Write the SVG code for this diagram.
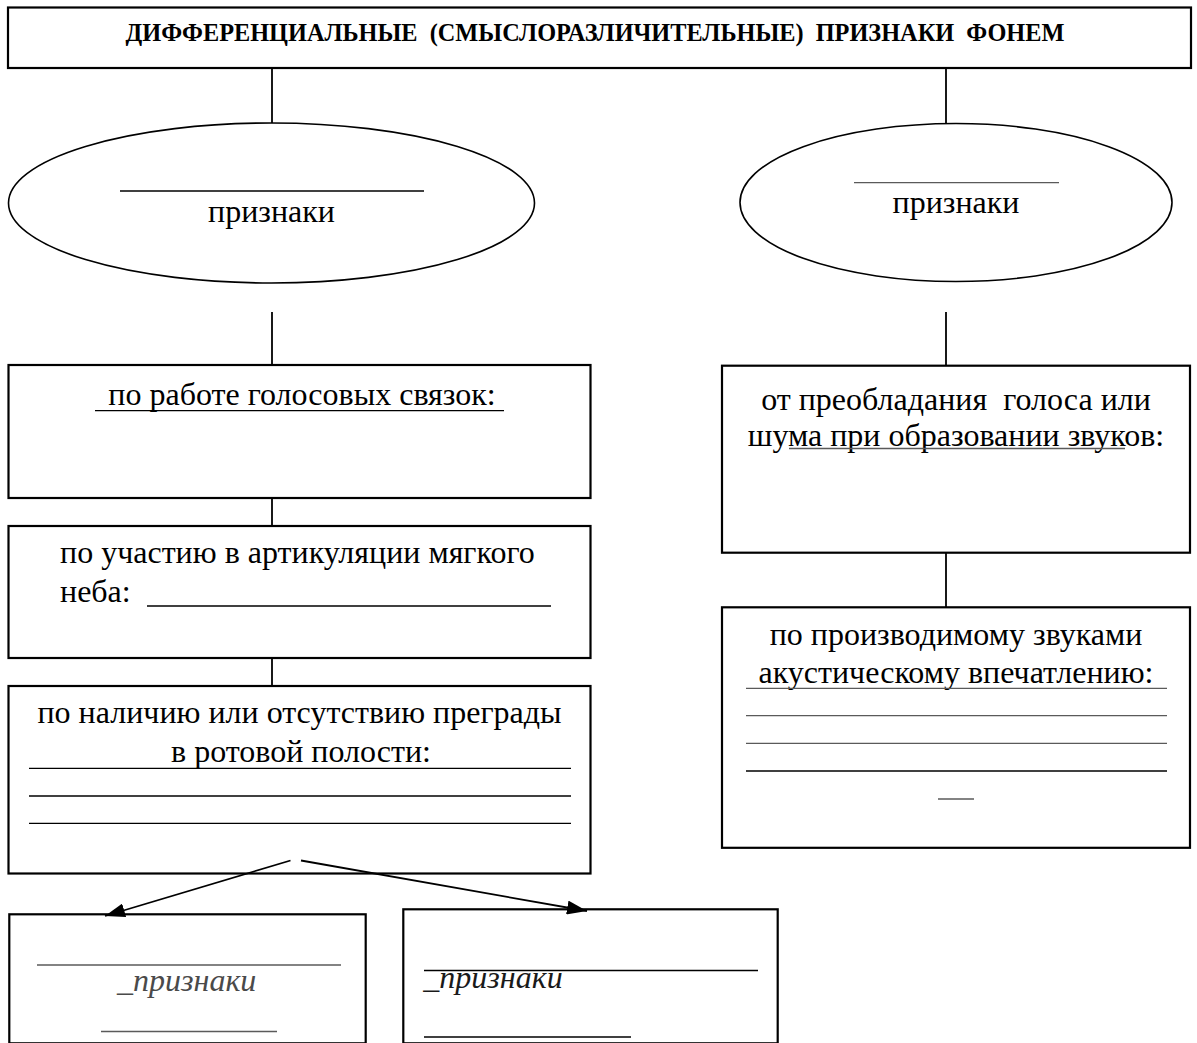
<svg xmlns="http://www.w3.org/2000/svg" width="1197" height="1043" viewBox="0 0 1197 1043">
  <style>
    .box { fill: #ffffff; stroke: #000000; stroke-width: 2.2; }
    .ell { fill: #ffffff; stroke: #000000; stroke-width: 1.6; }
    .conn { stroke: #000000; stroke-width: 1.8; fill: none; }
    .rule { stroke: #000000; stroke-width: 1.3; }
    .grule { stroke: #5a5a5a; stroke-width: 1.3; }
    .t { font-family: "Liberation Serif", "Times New Roman", serif; font-size: 32px; fill: #000000; }
    .title { font-family: "Liberation Serif", "Times New Roman", serif; font-size: 24.3px; font-weight: bold; fill: #000000; }
    .it { font-family: "Liberation Serif", "Times New Roman", serif; font-size: 32px; font-style: italic; }
  </style>
  <defs>
    <marker id="arrow" viewBox="0 0 20 14" refX="20" refY="7" markerWidth="20" markerHeight="14" markerUnits="userSpaceOnUse" orient="auto">
      <path d="M0,0 L20,7 L0,14 Z" fill="#000000"/>
    </marker>
  </defs>
  <rect x="0" y="0" width="1197" height="1043" fill="#ffffff"/>

  <g id="title">
    <rect class="box" x="8" y="7.5" width="1183" height="60.5"/>
    <text class="title" x="595" y="41" text-anchor="middle" xml:space="preserve">ДИФФЕРЕНЦИАЛЬНЫЕ  (СМЫСЛОРАЗЛИЧИТЕЛЬНЫЕ)  ПРИЗНАКИ  ФОНЕМ</text>
  </g>

  <g id="ellipse-left">
    <ellipse class="ell" cx="271.5" cy="203" rx="263" ry="80"/>
    <line class="rule" x1="120" y1="191" x2="424" y2="191"/>
    <text class="t" x="271.5" y="221.5" text-anchor="middle">признаки</text>
  </g>

  <g id="ellipse-right">
    <ellipse class="ell" cx="956" cy="202.5" rx="216" ry="79"/>
    <line class="grule" x1="854" y1="182.7" x2="1059" y2="182.7" stroke="#7a7a7a"/>
    <text class="t" x="956" y="212.7" text-anchor="middle">признаки</text>
  </g>

  <g id="box-voice">
    <rect class="box" x="8.5" y="365" width="582" height="133"/>
    <text class="t" x="302" y="405" text-anchor="middle">по работе голосовых связок:</text>
    <line class="rule" x1="95" y1="410.7" x2="504" y2="410.7"/>
  </g>

  <g id="box-palate">
    <rect class="box" x="8.5" y="526" width="582" height="132"/>
    <text class="t" x="60" y="563">по участию в артикуляции мягкого</text>
    <text class="t" x="60" y="601.7">неба:</text>
    <line class="rule" x1="147" y1="606" x2="551" y2="606" stroke-width="1.8"/>
  </g>

  <g id="box-obstacle">
    <rect class="box" x="8.5" y="686" width="582" height="187.5"/>
    <text class="t" x="299.5" y="723" text-anchor="middle">по наличию или отсутствию преграды</text>
    <text class="t" x="301" y="761.7" text-anchor="middle">в ротовой полости:</text>
    <line class="rule" x1="29" y1="768.3" x2="571" y2="768.3"/>
    <line class="rule" x1="29" y1="796" x2="571" y2="796"/>
    <line class="rule" x1="29" y1="823.3" x2="571" y2="823.3"/>
  </g>

  <g id="box-sub-left">
    <rect class="box" x="9.3" y="914.3" width="356.4" height="129" stroke-width="1.8"/>
    <line class="grule" x1="37" y1="965" x2="341" y2="965"/>
    <text class="it" x="186.7" y="991" text-anchor="middle" fill="#4a4a4a">_признаки</text>
    <line class="grule" x1="101" y1="1031.5" x2="277" y2="1031.5"/>
  </g>

  <g id="box-sub-right">
    <rect class="box" x="403.3" y="909.3" width="374.4" height="134" stroke-width="1.8"/>
    <line class="rule" x1="424" y1="970.5" x2="758" y2="970.5"/>
    <text class="it" x="423.3" y="988" fill="#1a1a1a">_признаки</text>
    <line class="rule" x1="424" y1="1037" x2="631" y2="1037"/>
  </g>

  <g id="box-noise">
    <rect class="box" x="722" y="365.7" width="468" height="187"/>
    <text class="t" x="956" y="410" text-anchor="middle" xml:space="preserve">от преобладания  голоса или</text>
    <text class="t" x="956" y="446" text-anchor="middle">шума при образовании звуков:</text>
    <line class="grule" x1="789" y1="448.5" x2="1125" y2="448.5"/>
  </g>

  <g id="box-acoustic">
    <rect class="box" x="722" y="607.3" width="468" height="240.5"/>
    <text class="t" x="956" y="645" text-anchor="middle">по производимому звуками</text>
    <text class="t" x="956" y="683" text-anchor="middle">акустическому впечатлению:</text>
    <line class="grule" x1="746" y1="688.3" x2="1167" y2="688.3"/>
    <line class="grule" x1="746" y1="715.7" x2="1167" y2="715.7"/>
    <line class="grule" x1="746" y1="743.3" x2="1167" y2="743.3"/>
    <line class="rule" x1="746" y1="771" x2="1167" y2="771"/>
    <line class="grule" x1="938" y1="799" x2="974" y2="799" stroke="#777777"/>
  </g>

  <g id="connectors">
    <line class="conn" x1="272" y1="68" x2="272" y2="123"/>
    <line class="conn" x1="946" y1="68" x2="946" y2="123.5"/>
    <line class="conn" x1="272" y1="312" x2="272" y2="365"/>
    <line class="conn" x1="946" y1="312" x2="946" y2="366"/>
    <line class="conn" x1="272" y1="498" x2="272" y2="526"/>
    <line class="conn" x1="272" y1="658" x2="272" y2="686"/>
    <line class="conn" x1="946" y1="553" x2="946" y2="607"/>
    <line class="conn" x1="290.5" y1="860.5" x2="105" y2="916" marker-end="url(#arrow)"/>
    <line class="conn" x1="301" y1="860.5" x2="587" y2="911" marker-end="url(#arrow)"/>
  </g>
</svg>
